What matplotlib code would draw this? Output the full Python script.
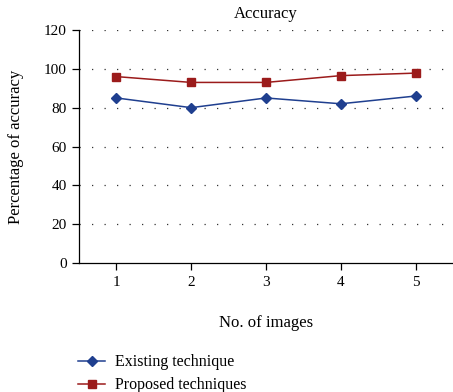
import matplotlib
matplotlib.use('Agg')
import matplotlib.pyplot as plt
from matplotlib.lines import Line2D

# data
images = [1, 2, 3, 4, 5]
existing = [85, 80, 85, 82, 86]
proposed = [96, 93, 93, 96.5, 97.8]
yticks = [0, 20, 40, 60, 80, 100, 120]

blue = '#1f3f8f'
red = '#9b1b1b'

plt.rcParams['font.family'] = ['Liberation Serif', 'DejaVu Serif']
plt.rcParams['font.size'] = 11

fig = plt.figure(figsize=(4.53, 3.92), dpi=100, facecolor='white')
ax = fig.add_axes([79 / 453, 1 - 263 / 392, 1 - 79 / 453, (263 - 30) / 392])

ax.plot(images, existing, color=blue, marker='D', markersize=5, linewidth=1.1)
ax.plot(images, proposed, color=red, marker='s', markersize=6, linewidth=1.1)

ax.set_xlim(0.5, 5.5)
ax.set_ylim(0, 120)
ax.set_xticks(images)
ax.set_yticks(yticks)
for y in yticks[1:]:
    ax.axhline(y, color='#333333', linestyle=(0, (1, 9)), linewidth=0.9, zorder=0)

for s in ['top', 'right']:
    ax.spines[s].set_visible(False)
ax.spines['left'].set_linewidth(0.9)
ax.spines['bottom'].set_linewidth(0.9)
ax.tick_params(direction='out', length=5, width=0.9, pad=4, labelsize=11)

ax.set_title('Accuracy', fontsize=12, pad=9)
ax.set_ylabel('Percentage of accuracy', fontsize=12, labelpad=14)
ax.set_xlabel('No. of images', fontsize=12, labelpad=19)

handles = [
    Line2D([], [], color=blue, marker='D', markersize=5, linewidth=1.1),
    Line2D([], [], color=red, marker='s', markersize=6, linewidth=1.1),
]
fig.legend(handles, ['Existing technique', 'Proposed techniques'],
           loc='upper left', bbox_to_anchor=(67 / 453, 1 - 343 / 392),
           frameon=False, fontsize=11.5, handlelength=1.7, handletextpad=0.6,
           labelspacing=0.45, borderpad=0.2)

fig.savefig('out.png', dpi=100, facecolor='white')
plt.close()
